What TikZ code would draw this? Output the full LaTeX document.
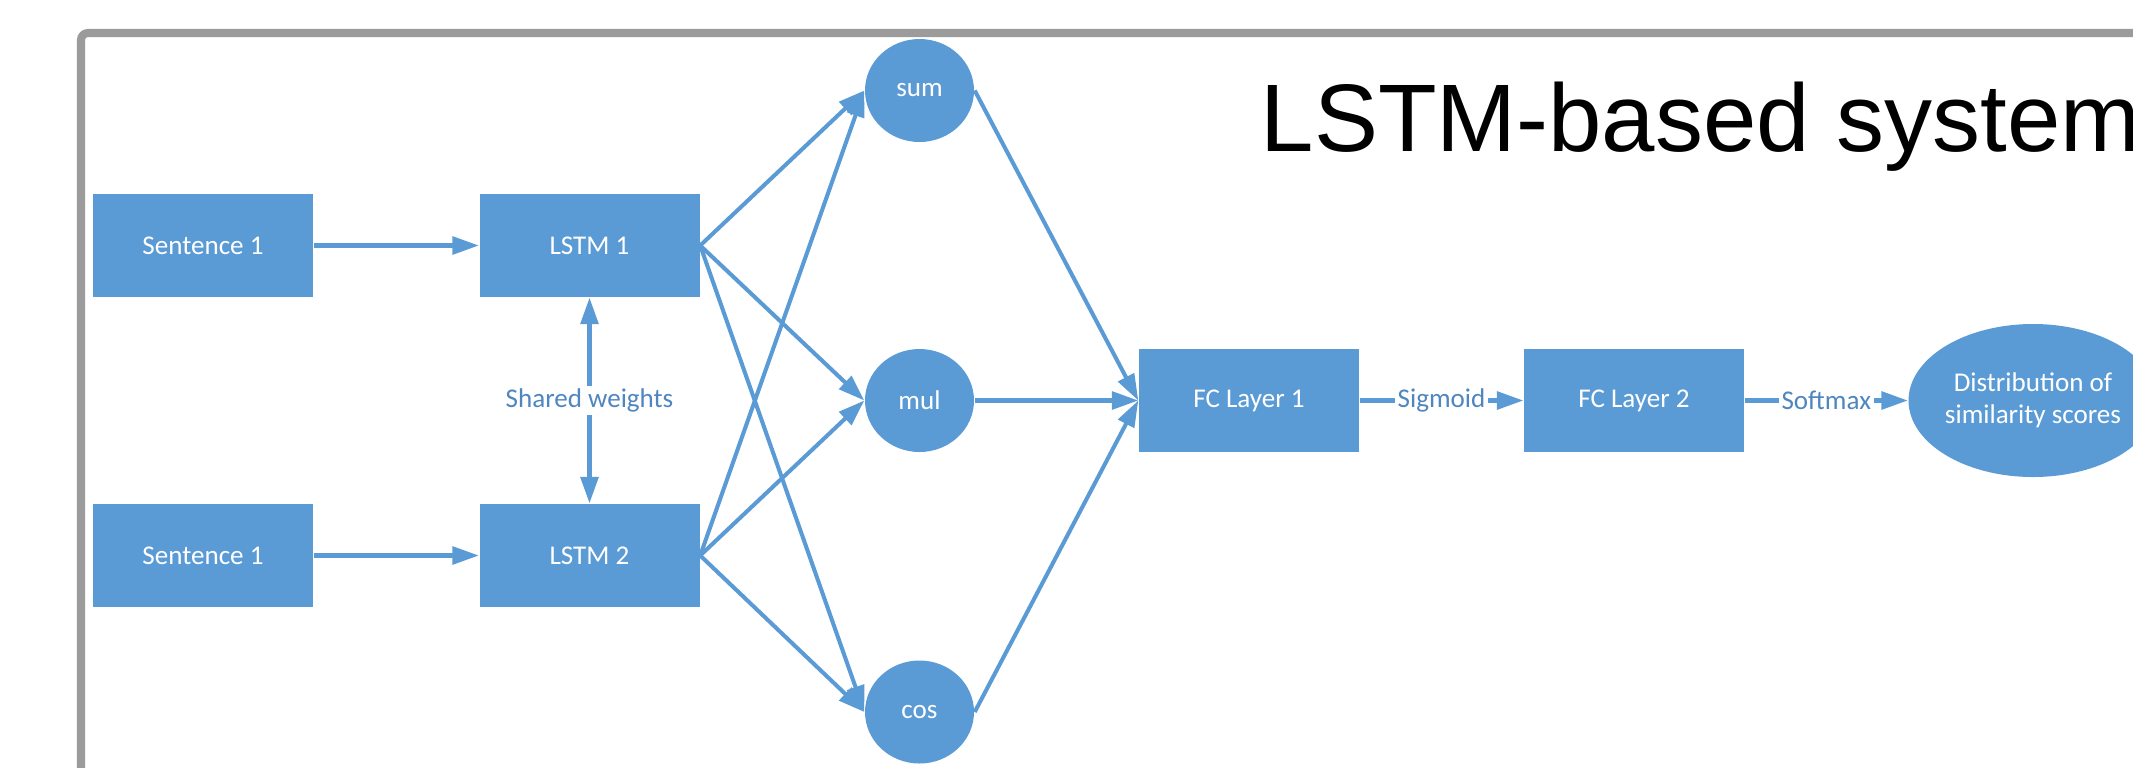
\documentclass[tikz,border=0pt]{standalone}
\usepackage{fontspec}
\setmainfont{Carlito}
\newfontfamily\titlefont{Liberation Sans}
\usetikzlibrary{arrows.meta,shapes.geometric}
\definecolor{boxblue}{HTML}{5B9BD5}
\definecolor{tagblue}{HTML}{4F86C0}
\definecolor{framegray}{HTML}{9B9B9B}

\begin{document}
\begin{tikzpicture}
[
 font=\fontsize{7.7}{9.1}\selectfont,
 >={Triangle[length=7.5pt,width=5pt]},
 BOX/.style={rectangle, fill=boxblue, text=white, minimum width=2.20cm, minimum height=1.03cm, inner sep=0mm},
 OPCIRC/.style={ellipse, fill=boxblue, text=white, minimum width=1.09cm, minimum height=1.03cm, inner sep=0mm},
 OUTCIRC/.style={ellipse, fill=boxblue, text=white, minimum width=2.46cm, minimum height=1.53cm, inner sep=0mm, align=center},
 LINK/.style={draw=boxblue, line width=1.15pt, ->},
 TAG/.style={fill=white, text=tagblue, inner sep=0.3mm},
 ]
\useasboundingbox (0,0) rectangle (21.33,-7.67);
%
\draw[framegray, line width=2.3pt, rounded corners=2pt] (0.81,-8.50) -- (0.81,-0.33) -- (22.00,-0.33);
\node[anchor=base west, inner sep=0mm, font=\titlefont\fontsize{27.3}{32}\selectfont] (title) at (12.60,-1.51) {LSTM-based system};
%
\node [BOX]  (S1)   at ( 2.030,-2.455)  {Sentence 1};
\node [BOX]  (L1)   at ( 5.895,-2.455)  {LSTM 1};
\node [BOX]  (S2)   at ( 2.030,-5.555)  {Sentence 1};
\node [BOX]  (L2)   at ( 5.895,-5.555)  {LSTM 2};
%
\node [OPCIRC]  (sum)  at ( 9.195,-0.905)  {sum};
\node [OPCIRC]  (mul)  at ( 9.195,-4.005)  {mul};
\node [OPCIRC]  (cos)  at ( 9.195,-7.120)  {cos};
%
\node [BOX]  (FC1)  at (12.490,-4.005)  {FC Layer 1};
\node [BOX]  (FC2)  at (16.340,-4.005)  {FC Layer 2};
\node [OUTCIRC]  (dist) at (20.330,-4.005)  {Distribution of\\similarity scores};
%
\draw [LINK]  (S1.east) -- (L1.west) ;
\draw [LINK]  (S2.east) -- (L2.west) ;
\draw [LINK, <->]  (L1.south) -- node[TAG] {Shared weights} (L2.north) ;
%
\foreach \src in {L1,L2}
   \foreach \dst in {sum,mul,cos}
      { \draw [LINK]  (\src.east) -- (\dst.west) ; }
\foreach \src in {sum,mul,cos} { \draw [LINK]  (\src.east) -- (FC1.west) ; }
%
\draw [LINK]  (FC1.east) -- node[TAG] {Sigmoid} (FC2.west) ;
\draw [LINK]  (FC2.east) -- node[TAG] {Softmax} (dist.west) ;
%
\end{tikzpicture}
\end{document}
